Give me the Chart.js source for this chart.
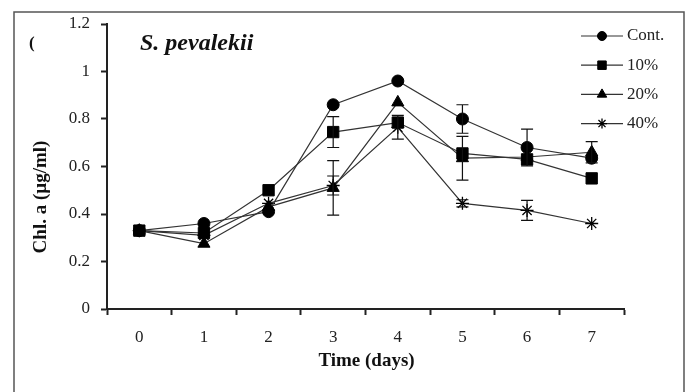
<!DOCTYPE html>
<html>
<head>
<meta charset="utf-8">
<script src="https://cdn.jsdelivr.net/npm/chart.js@4"></script>
<style>
    html, body { margin: 0; padding: 0; background: #fff; }
    #wrap { width: 689px; height: 392px; }
</style>
</head>
<body>
<div id="wrap"><canvas id="chart" width="689" height="392"></canvas></div>
<script>
// days on the x axis
var days = ['0', '1', '2', '3', '4', '5', '6', '7'];

// Chl. a values (ug/ml) per treatment
var contValues = [0.33, 0.36, 0.41, 0.86, 0.96, 0.80, 0.68, 0.635];
var p10Values  = [0.33, 0.32, 0.50, 0.745, 0.785, 0.655, 0.63, 0.55];
var p20Values  = [0.33, 0.275, 0.43, 0.51, 0.87, 0.635, 0.64, 0.66];
var p40Values  = [0.33, 0.31, 0.445, 0.52, 0.765, 0.445, 0.415, 0.36];

// error bar half-widths (0 = none drawn)
var contErrors = [0, 0, 0, 0, 0, 0.06, 0.077, 0];
var p10Errors  = [0, 0, 0, 0.065, 0, 0, 0, 0];
var p20Errors  = [0, 0, 0, 0.115, 0, 0.092, 0, 0.045];
var p40Errors  = [0, 0, 0, 0.04, 0.05, 0.015, 0.042, 0];

var seriesNames = ['Cont.', '10%', '20%', '40%'];
var yTicks = [0, 0.2, 0.4, 0.6, 0.8, 1, 1.2];

var serif = "'Liberation Serif', 'DejaVu Serif', serif";
Chart.defaults.font.family = serif;
Chart.defaults.color = '#222';

function makeDataset(label, values, errors, style, radius) {
    return {
        label: label,
        data: values,
        errors: errors,
        borderColor: '#333',
        borderWidth: 1.2,
        pointStyle: style,
        pointRadius: radius,
        pointHoverRadius: radius,
        pointBackgroundColor: '#000',
        pointBorderColor: '#000',
        pointBorderWidth: style === 'star' ? 1.3 : 1,
        fill: false,
        tension: 0
    };
}

/**
 * Frame, titles, error bars and the line+marker legend
 */
var extrasPlugin = {
    id: 'extras',
    beforeDraw: function(chart) {
        var ctx = chart.ctx;
        ctx.save();
        ctx.strokeStyle = '#555';
        ctx.lineWidth = 1.5;
        ctx.strokeRect(14, 12, 670, 420);
        ctx.restore();
    },
    afterDatasetsDraw: function(chart) {
        var ctx = chart.ctx;
        var x = chart.scales.x, y = chart.scales.y;
        ctx.save();
        ctx.strokeStyle = '#111';
        ctx.lineWidth = 1.2;
        chart.data.datasets.forEach(function(ds) {
            ds.data.forEach(function(v, i) {
                var e = ds.errors[i];
                if (!e) return;
                var px = x.getPixelForValue(i);
                var top = y.getPixelForValue(v + e);
                var bot = y.getPixelForValue(v - e);
                ctx.beginPath();
                ctx.moveTo(px, top); ctx.lineTo(px, bot);
                ctx.moveTo(px - 6, top); ctx.lineTo(px + 6, top);
                ctx.moveTo(px - 6, bot); ctx.lineTo(px + 6, bot);
                ctx.stroke();
            });
        });
        ctx.restore();
    },
    afterDraw: function(chart) {
        var ctx = chart.ctx;
        var area = chart.chartArea;
        ctx.save();
        ctx.fillStyle = '#111';

        ctx.font = 'bold 17px ' + serif;
        ctx.textAlign = 'left';
        ctx.textBaseline = 'alphabetic';
        ctx.fillText('(', 29, 48);

        ctx.font = 'italic bold 24px ' + serif;
        ctx.fillText('S. pevalekii', 140, 50);

        // axis titles
        ctx.font = 'bold 19px ' + serif;
        ctx.textAlign = 'center';
        ctx.textBaseline = 'middle';
        ctx.fillText('Time (days)', (area.left + area.right) / 2 + 1, 361);
        ctx.save();
        ctx.translate(41, 197);
        ctx.rotate(-Math.PI / 2);
        ctx.fillText('Chl. a (\u00b5g/ml)', 0, 0);
        ctx.restore();

        // legend: short line with marker
        var legendSizes = [4.5, 6, 5.5, 5];
        ctx.font = '17px ' + serif;
        ctx.textAlign = 'left';
        chart.data.datasets.forEach(function(ds, i) {
            var ly = 36 + i * 29.2;
            ctx.strokeStyle = '#333';
            ctx.lineWidth = 1.2;
            ctx.beginPath();
            ctx.moveTo(581, ly); ctx.lineTo(623, ly);
            ctx.stroke();
            ctx.fillStyle = '#000';
            ctx.strokeStyle = '#000';
            ctx.lineWidth = ds.pointBorderWidth;
            Chart.helpers.drawPoint(ctx, {pointStyle: ds.pointStyle, radius: legendSizes[i], rotation: 0, borderWidth: ds.pointBorderWidth}, 602, ly);
            ctx.fillStyle = '#222';
            ctx.fillText(ds.label, 627, ly);
        });
        ctx.restore();
    }
};

var chartData = {
    labels: days,
    datasets: [
        makeDataset(seriesNames[0], contValues, contErrors, 'circle', 6),
        makeDataset(seriesNames[1], p10Values, p10Errors, 'rect', 8),
        makeDataset(seriesNames[2], p20Values, p20Errors, 'triangle', 7),
        makeDataset(seriesNames[3], p40Values, p40Errors, 'star', 6.5)
    ]
};

new Chart(document.getElementById('chart'), {
    type: 'line',
    data: chartData,
    plugins: [extrasPlugin],
    options: {
        responsive: false,
        devicePixelRatio: 1,
        animation: false,
        events: [],
        layout: {
            padding: {left: 20, top: 24, right: 65, bottom: 0}
        },
        plugins: {
            legend: {display: false},
            tooltip: {enabled: false}
        },
        scales: {
            x: {
                type: 'category',
                offset: true,
                grid: {
                    offset: true,
                    drawOnChartArea: false,
                    drawTicks: true,
                    tickLength: 6,
                    tickWidth: 2,
                    color: '#222'
                },
                border: {display: true, color: '#222', width: 2},
                ticks: {
                    padding: 12,
                    font: {size: 17},
                    color: '#222',
                    maxRotation: 0
                },
                afterFit: function(scale) { scale.height = 83; }
            },
            y: {
                min: 0,
                max: 1.2,
                afterBuildTicks: function(scale) {
                    scale.ticks = yTicks.map(function(v) { return {value: v}; });
                },
                grid: {
                    drawOnChartArea: false,
                    drawTicks: true,
                    tickLength: 6,
                    tickWidth: 2,
                    color: '#222'
                },
                border: {display: true, color: '#222', width: 2},
                ticks: {
                    padding: 11,
                    font: {size: 17},
                    color: '#222',
                    callback: function(v) { return String(Math.round(v * 10) / 10); }
                },
                afterFit: function(scale) { scale.width = 87; }
            }
        }
    }
});
</script>
</body>
</html>
